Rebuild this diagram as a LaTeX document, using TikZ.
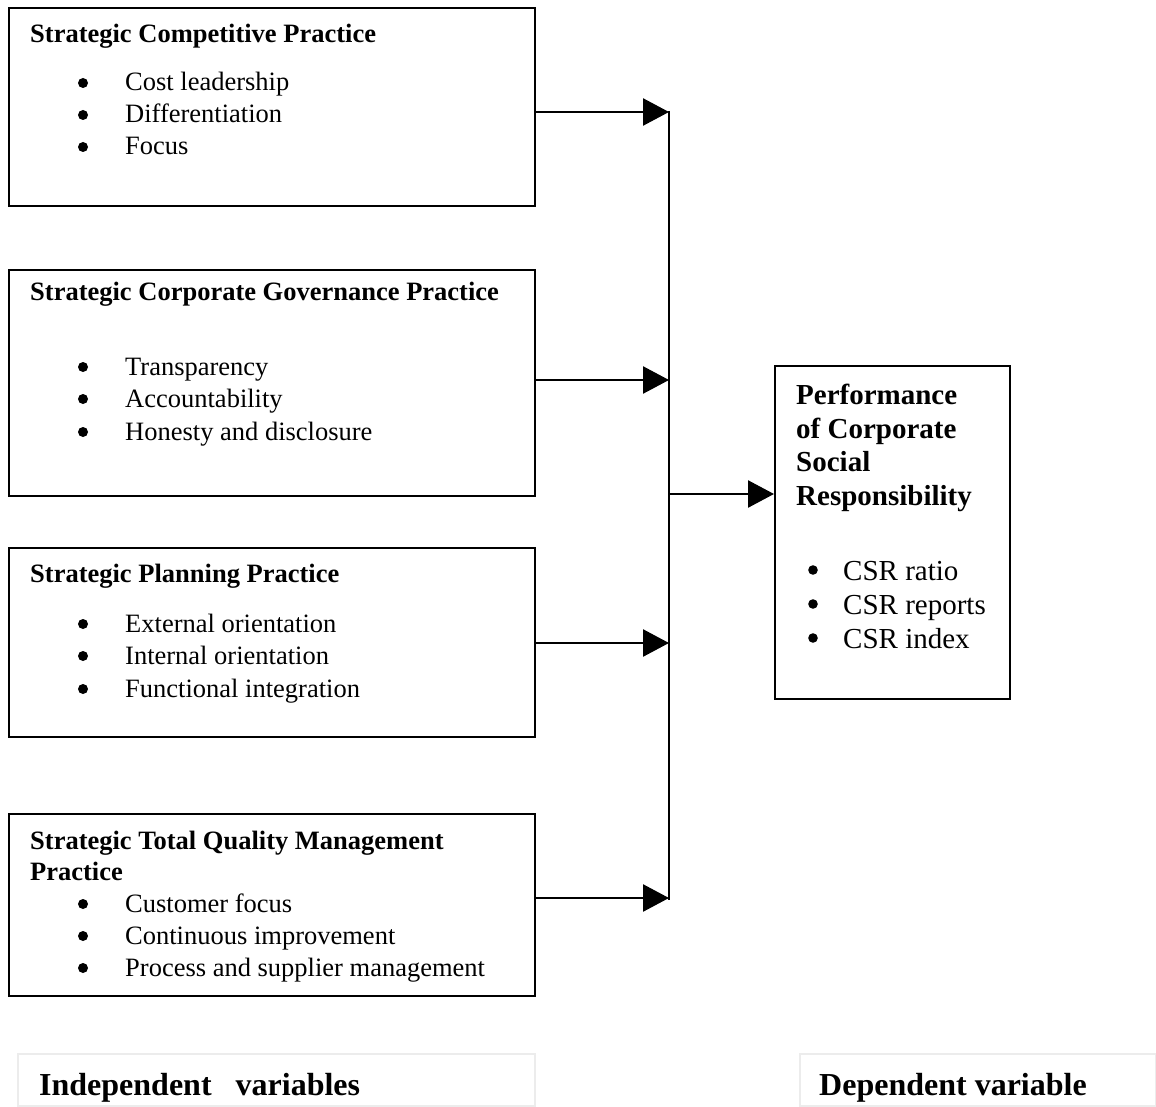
\documentclass[tikz,border=0pt]{standalone}
\usepackage{fontspec}
\setmainfont{Liberation Serif}
\usepackage{xcolor}
\usetikzlibrary{arrows.meta,positioning,calc}
\definecolor{cInk}{HTML}{000000}
\definecolor{cFrame}{HTML}{ECECEC}
\tikzset{
  vbox/.style={draw=cInk,line width=2pt,minimum width=526pt,inner sep=0pt,anchor=north west},
  dbox/.style={draw=cInk,line width=2pt,minimum width=235pt,minimum height=333pt,inner sep=0pt,anchor=north west},
  fbox/.style={draw=cFrame,line width=2pt,minimum height=52pt,inner sep=0pt,anchor=north west},
  ttl/.style={font=\fontsize{26.5}{32}\selectfont\bfseries,inner sep=0pt,anchor=base west,text=cInk},
  itm/.style={font=\fontsize{26.5}{32}\selectfont,inner sep=0pt,anchor=base west,text=cInk},
  dttl/.style={font=\fontsize{29}{34}\selectfont\bfseries,inner sep=0pt,anchor=base west,text=cInk},
  ditm/.style={font=\fontsize{29}{34}\selectfont,inner sep=0pt,anchor=base west,text=cInk},
  flbl/.style={font=\fontsize{32}{38}\selectfont\bfseries,inner sep=0pt,anchor=base west,text=cInk},
  arr/.style={-{Triangle[length=26pt,width=27pt]},line width=2.5pt,color=cInk},
  bus/.style={line width=2pt,color=cInk},
  dot/.style={fill=cInk},
}

\begin{document}
\begin{tikzpicture}[x=1pt,y=-1pt]
    \useasboundingbox (0,0) rectangle (1156,1107);
    % independent variables
    \node[vbox,minimum height=198pt] (comp) at (8,7) {};
    \node[vbox,minimum height=226pt] (gov) at (8,269) {};
    \node[vbox,minimum height=189pt] (plan) at (8,547) {};
    \node[vbox,minimum height=182pt] (tqm) at (8,813) {};
    \node[ttl] (comp-t) at (30,43) {Strategic Competitive Practice};
    \foreach \y/\t [count=\i] in {91/Cost leadership, 123/Differentiation, 155/Focus}{
      \fill[dot] (83,\y-8) circle (5pt);
      \node[itm] (comp-\i) at (125,\y) {\t};}
    \node[ttl] (gov-t) at (30,300) {Strategic Corporate Governance Practice};
    \foreach \y/\t [count=\i] in {375/Transparency, 407/Accountability, 440/Honesty and disclosure}{
      \fill[dot] (83,\y-8) circle (5pt);
      \node[itm] (gov-\i) at (125,\y) {\t};}
    \node[ttl] (plan-t) at (30,582) {Strategic Planning Practice};
    \foreach \y/\t [count=\i] in {632/External orientation, 664/Internal orientation, 697/Functional integration}{
      \fill[dot] (83,\y-8) circle (5pt);
      \node[itm] (plan-\i) at (125,\y) {\t};}
    \node[ttl] (tqm-t) at (30,849) {Strategic Total Quality Management};
    \node[ttl] (tqm-t2) at (30,880) {Practice};
    \foreach \y/\t [count=\i] in {912/Customer focus, 944/Continuous improvement, 976/Process and supplier management}{
      \fill[dot] (83,\y-8) circle (5pt);
      \node[itm] (tqm-\i) at (125,\y) {\t};}
    % dependent variable
    \node[dbox] (csr) at (774,365) {};
    \foreach \y/\t [count=\i] in {404/Performance, 438/of Corporate, 471/Social, 505/Responsibility}
      \node[dttl] (csr-t\i) at (796,\y) {\t};
    \foreach \y/\t [count=\i] in {580/CSR ratio, 614/CSR reports, 648/CSR index}{
      \fill[dot] (813,\y-10) circle (4.8pt);
      \node[ditm] (csr-\i) at (843,\y) {\t};}
    % connectors
    \coordinate (j1) at (669,112);
    \coordinate (j2) at (669,380);
    \coordinate (j3) at (669,643);
    \coordinate (j4) at (669,898);
    \coordinate (jm) at (669,494);
    \draw[bus] ($(j1)+(0,-1)$) -- ($(j4)+(0,2)$);
    \foreach \b/\j in {comp/j1, gov/j2, plan/j3, tqm/j4}
      \draw[arr] (\b.east |- \j) -- (\j);
    \draw[arr] (jm) -- (csr.west |- jm);
    % captions
    \node[fbox,minimum width=517pt] (indep) at (17,1053) {};
    \node[flbl] (indep-t) at (39,1095) {Independent\ \ \ variables};
    \node[fbox,minimum width=356pt] (dep) at (799,1053) {};
    \node[flbl] (dep-t) at (819,1095) {Dependent variable};
\end{tikzpicture}
\end{document}
